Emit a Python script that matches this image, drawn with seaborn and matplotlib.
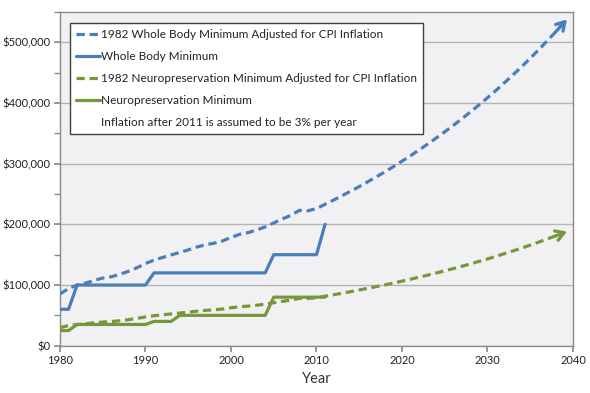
import numpy as np
import pandas as pd
import matplotlib
matplotlib.use("Agg")
import matplotlib.pyplot as plt
import matplotlib.ticker as mticker
from matplotlib.lines import Line2D
import seaborn as sns

# colours
WB_COLOR = "#4a7ebb"    # blue
NEURO_COLOR = "#76983a" # olive green

# --- data (dollars) ---
adj_years = list(range(1980, 2040))
wb_adjusted = [
    85400, 94200, 100000, 103200, 107700, 111500, 113600, 117700, 122600, 128500,
    135400, 141100, 145400, 149700, 153600, 157900, 162600, 166300, 168900, 172600,
    178400, 183500, 186400, 190700, 195800, 202400, 208900, 214800, 223100, 222300,
    226000, 233100, 240000, 247300, 254700, 262300, 270200, 278300, 286600, 295200,
    304100, 313200, 322600, 332300, 342300, 352500, 363100, 374000, 385200, 396800,
    408700, 420900, 433600, 446600, 460000, 473800, 488000, 502600, 517700, 533200,
]
neuro_adjusted = [
    29900, 33000, 35000, 36100, 37700, 39000, 39800, 41200, 42900, 45000,
    47400, 49400, 50900, 52400, 53800, 55300, 56900, 58200, 59100, 60400,
    62500, 64200, 65300, 66700, 68500, 70800, 73100, 75200, 78100, 77800,
    79100, 81600, 84000, 86500, 89100, 91800, 94600, 97400, 100300, 103300,
    106400, 109600, 112900, 116300, 119800, 123400, 127100, 130900, 134800, 138900,
    143000, 147300, 151800, 156300, 161000, 165800, 170800, 175900, 181200, 186600,
]

wb_years = [1980, 1981, 1982, 1990, 1991, 2004, 2005, 2010, 2011]
wb_minimum = [60000, 60000, 100000, 100000, 120000, 120000, 150000, 150000, 200000]

neuro_years = [1980, 1981, 1982, 1990, 1991, 1993, 1994, 2004, 2005, 2011]
neuro_minimum = [25000, 25000, 35000, 35000, 40000, 40000, 50000, 50000, 80000, 80000]

labels = [
    "1982 Whole Body Minimum Adjusted for CPI Inflation",
    "Whole Body Minimum",
    "1982 Neuropreservation Minimum Adjusted for CPI Inflation",
    "Neuropreservation Minimum",
    "Inflation after 2011 is assumed to be 3% per year",
]
x_ticks = [1980, 1990, 2000, 2010, 2020, 2030, 2040]

sns.set_theme(style="ticks")
plt.rcParams["font.family"] = ["Lato", "DejaVu Sans"]

fig = plt.figure(figsize=(5.9, 3.93), dpi=100)
ax = fig.add_axes([60 / 590, 1 - 345.7 / 393, 513 / 590, 333.7 / 393])
ax.set_facecolor("#f1f1f3")

LW = 2.3
DASH = (2.6, 1.5)

sns.lineplot(x=adj_years, y=wb_adjusted, ax=ax, color=WB_COLOR, lw=LW,
             zorder=4).lines[-1].set_dashes(DASH)
sns.lineplot(x=wb_years, y=wb_minimum, ax=ax, color=WB_COLOR, lw=LW, zorder=4)
sns.lineplot(x=adj_years, y=neuro_adjusted, ax=ax, color=NEURO_COLOR, lw=LW,
             zorder=3).lines[-1].set_dashes(DASH)
sns.lineplot(x=neuro_years, y=neuro_minimum, ax=ax, color=NEURO_COLOR, lw=LW, zorder=3)

# open arrow heads at the end of the projected lines
for ys, col in [(wb_adjusted, WB_COLOR), (neuro_adjusted, NEURO_COLOR)]:
    ax.annotate("", xy=(adj_years[-1] + 0.3, ys[-1] + (ys[-1] - ys[-2]) * 0.3),
                xytext=(adj_years[-2], ys[-2]),
                arrowprops=dict(arrowstyle="->,head_length=0.5,head_width=0.3",
                                color=col, lw=LW, shrinkA=0, shrinkB=0),
                zorder=5)

ax.set_xlim(1980, 2040)
ax.set_ylim(0, 550000)
ax.set_xticks(x_ticks)
ax.yaxis.set_major_locator(mticker.MultipleLocator(100000))
ax.yaxis.set_minor_locator(mticker.MultipleLocator(50000))
ax.yaxis.set_major_formatter(mticker.FuncFormatter(lambda v, p: f"${v:,.0f}"))
ax.grid(axis="y", which="major", color="#b4b4b4", lw=1)
ax.set_axisbelow(True)

for side in ["top", "right", "left", "bottom"]:
    ax.spines[side].set_color("#8a8a8a")
    ax.spines[side].set_linewidth(1)
ax.tick_params(axis="both", which="both", direction="out", length=4,
               color="#8a8a8a", labelsize=8, labelcolor="#222222", pad=3)
ax.tick_params(axis="y", which="minor", length=4)
ax.set_xlabel("Year", fontsize=10.5, color="#333333", labelpad=4)
ax.set_ylabel("")

handles = [
    Line2D([], [], color=WB_COLOR, lw=LW, dashes=DASH),
    Line2D([], [], color=WB_COLOR, lw=LW),
    Line2D([], [], color=NEURO_COLOR, lw=LW, dashes=DASH),
    Line2D([], [], color=NEURO_COLOR, lw=LW),
    Line2D([], [], color="none", lw=0),
]
leg = ax.legend(handles, labels, loc="upper left",
                bbox_to_anchor=(10 / 513, (345.7 - 23) / 333.7),
                borderaxespad=0, fontsize=8.5, frameon=True, fancybox=False,
                edgecolor="#404040", facecolor="white", framealpha=1,
                handlelength=2.0, handletextpad=0.15, labelspacing=0.93,
                borderpad=0.5)
leg.get_frame().set_linewidth(1)
for t in leg.get_texts():
    t.set_color("#222222")

fig.savefig("out.png", dpi=100)
